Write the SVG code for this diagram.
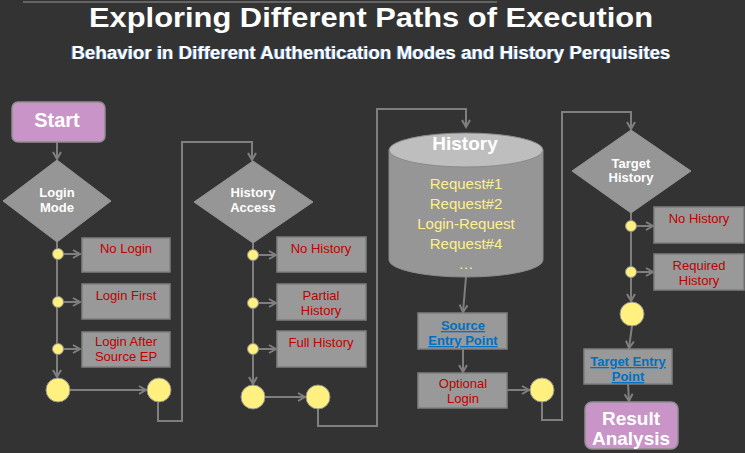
<svg xmlns="http://www.w3.org/2000/svg" width="745" height="453" viewBox="0 0 745 453">
<defs>
<marker id="arr" markerWidth="10" markerHeight="10" refX="8" refY="5" orient="auto" markerUnits="userSpaceOnUse">
<path d="M1,1 L8,5 L1,9" fill="none" stroke="#7f7f7f" stroke-width="2"/>
</marker>
<style>
.ln{fill:none;stroke:#7f7f7f;stroke-width:2}
.box{fill:#999999;stroke:#7f7f7f;stroke-width:1.5}
.dia{fill:#969696;stroke:#969696}
.pink{fill:#c994c7;stroke:#8f8f8f;stroke-width:1.5}
.dot{fill:#fff080;stroke:#8f8f8f;stroke-width:1}
.red{font-family:"Liberation Sans",Arial,sans-serif;font-size:13px;fill:#c00000;text-anchor:middle}
.wb{font-family:"Liberation Sans",Arial,sans-serif;font-weight:bold;fill:#ffffff;text-anchor:middle}
.blue{font-family:"Liberation Sans",Arial,sans-serif;font-weight:bold;font-size:13px;fill:#0070c0;text-anchor:middle;text-decoration:underline}
.yel{font-family:"Liberation Sans",Arial,sans-serif;font-size:15px;fill:#fff08c;text-anchor:middle}
</style>
</defs>
<rect width="745" height="453" fill="#333333"/>
<line x1="23" y1="2" x2="497" y2="2" stroke="#777777" stroke-width="1.5"/>
<text x="371" y="27" class="wb" font-size="28" textLength="564" lengthAdjust="spacingAndGlyphs">Exploring Different Paths of Execution</text>
<text x="370" y="59" font-family="'Liberation Sans',Arial,sans-serif" font-weight="bold" font-size="18" fill="#5b8fd0" text-anchor="middle" textLength="599" lengthAdjust="spacingAndGlyphs">Behavior in Different Authentication Modes and History Perquisites</text>
<text x="371" y="59" class="wb" font-size="18" textLength="599" lengthAdjust="spacingAndGlyphs">Behavior in Different Authentication Modes and History Perquisites</text>

<g id="connectors">
<line class="ln" x1="57" y1="142" x2="57" y2="159" marker-end="url(#arr)"/>
<line class="ln" x1="57" y1="242" x2="57" y2="377" marker-end="url(#arr)"/>
<line class="ln" x1="58" y1="254" x2="80" y2="254" marker-end="url(#arr)"/>
<line class="ln" x1="58" y1="302" x2="80" y2="302" marker-end="url(#arr)"/>
<line class="ln" x1="58" y1="349" x2="80" y2="349" marker-end="url(#arr)"/>
<line class="ln" x1="70" y1="390" x2="146" y2="390" marker-end="url(#arr)"/>
<polyline class="ln" points="158,402 158,421 182,421 182,142 252,142 252,160" marker-end="url(#arr)"/>
<line class="ln" x1="253" y1="243" x2="253" y2="384" marker-end="url(#arr)"/>
<line class="ln" x1="253" y1="255" x2="276" y2="255" marker-end="url(#arr)"/>
<line class="ln" x1="253" y1="303" x2="276" y2="303" marker-end="url(#arr)"/>
<line class="ln" x1="253" y1="349" x2="276" y2="349" marker-end="url(#arr)"/>
<line class="ln" x1="265" y1="397" x2="305" y2="397" marker-end="url(#arr)"/>
<polyline class="ln" points="318,409 318,426 377,426 377,109 466,109 466,127" marker-end="url(#arr)"/>
<line class="ln" x1="466" y1="277" x2="463" y2="312" marker-end="url(#arr)"/>
<line class="ln" x1="463" y1="349" x2="463" y2="372" marker-end="url(#arr)"/>
<line class="ln" x1="507" y1="390" x2="529" y2="390" marker-end="url(#arr)"/>
<polyline class="ln" points="542,402 542,420 562,420 562,112 631,112 631,129" marker-end="url(#arr)"/>
<line class="ln" x1="631" y1="213" x2="631" y2="301" marker-end="url(#arr)"/>
<line class="ln" x1="631" y1="226" x2="653" y2="226" marker-end="url(#arr)"/>
<line class="ln" x1="631" y1="272" x2="653" y2="272" marker-end="url(#arr)"/>
<line class="ln" x1="632" y1="326" x2="629" y2="348" marker-end="url(#arr)"/>
<line class="ln" x1="628" y1="384" x2="629" y2="401" marker-end="url(#arr)"/>
</g>

<g id="start">
<rect class="pink" x="12" y="102" width="93" height="40" rx="6"/>
<text x="57" y="127" class="wb" font-size="20">Start</text>
</g>
<g id="login-mode">
<polygon class="dia" points="57,160 111,201 57,242 3,201"/>
<text x="57" y="197" class="wb" font-size="13">Login</text>
<text x="57" y="212" class="wb" font-size="13">Mode</text>
</g>
<g id="no-login">
<rect class="box" x="82" y="238" width="88" height="34"/>
<text x="126" y="253" class="red">No Login</text>
</g>
<g id="login-first">
<rect class="box" x="82" y="284" width="88" height="35"/>
<text x="126" y="300" class="red">Login First</text>
</g>
<g id="login-after">
<rect class="box" x="82" y="332" width="88" height="35"/>
<text x="126" y="346" class="red">Login After</text>
<text x="126" y="361" class="red">Source EP</text>
</g>
<g id="dots-1">
<circle class="dot" cx="58" cy="254" r="5.5"/>
<circle class="dot" cx="58" cy="302" r="5.5"/>
<circle class="dot" cx="58" cy="349" r="5.5"/>
<circle class="dot" cx="58" cy="390" r="12"/>
<circle class="dot" cx="159" cy="390" r="12"/>
</g>

<g id="history-access">
<polygon class="dia" points="253,161 313,202 253,243 194,202"/>
<text x="253" y="197" class="wb" font-size="13">History</text>
<text x="253" y="212" class="wb" font-size="13">Access</text>
</g>
<g id="no-history-1">
<rect class="box" x="277" y="237" width="89" height="35"/>
<text x="321" y="253" class="red">No History</text>
</g>
<g id="partial-history">
<rect class="box" x="277" y="284" width="89" height="36"/>
<text x="321" y="300" class="red">Partial</text>
<text x="321" y="315" class="red">History</text>
</g>
<g id="full-history">
<rect class="box" x="277" y="331" width="89" height="36"/>
<text x="321" y="347" class="red">Full History</text>
</g>
<g id="dots-2">
<circle class="dot" cx="253" cy="255" r="5.5"/>
<circle class="dot" cx="253" cy="303" r="5.5"/>
<circle class="dot" cx="253" cy="349" r="5.5"/>
<circle class="dot" cx="253" cy="397" r="12"/>
<circle class="dot" cx="318" cy="397" r="12"/>
</g>

<g id="history-db">
<path d="M389,150 L389,260 A77,17 0 0 0 543,260 L543,150 Z" fill="#969696" stroke="#8a8a8a" stroke-width="1"/>
<ellipse cx="466" cy="150" rx="77" ry="17" fill="#bebebe" stroke="#8a8a8a" stroke-width="1"/>
<text x="465" y="150" class="wb" font-size="19">History</text>
<text x="466" y="189" class="yel">Request#1</text>
<text x="466" y="209" class="yel">Request#2</text>
<text x="466" y="229" class="yel">Login-Request</text>
<text x="466" y="249" class="yel">Request#4</text>
<text x="466" y="269" class="yel">…</text>
</g>
<g id="source-ep">
<rect class="box" x="418" y="313" width="89" height="36"/>
<text x="463" y="330" class="blue">Source</text>
<text x="463" y="345" class="blue">Entry Point</text>
</g>
<g id="optional-login">
<rect class="box" x="418" y="373" width="89" height="35"/>
<text x="463" y="388" class="red">Optional</text>
<text x="463" y="403" class="red">Login</text>
</g>
<g id="dots-3">
<circle class="dot" cx="542" cy="390" r="12"/>
</g>

<g id="target-history">
<polygon class="dia" points="631,130 691,171 631,213 572,171"/>
<text x="631" y="168" class="wb" font-size="13">Target</text>
<text x="631" y="182" class="wb" font-size="13">History</text>
</g>
<g id="no-history-2">
<rect class="box" x="654" y="207" width="90" height="36"/>
<text x="699" y="223" class="red">No History</text>
</g>
<g id="required-history">
<rect class="box" x="654" y="254" width="90" height="36"/>
<text x="699" y="270" class="red">Required</text>
<text x="699" y="285" class="red">History</text>
</g>
<g id="dots-4">
<circle class="dot" cx="631" cy="226" r="5.5"/>
<circle class="dot" cx="631" cy="272" r="5.5"/>
<circle class="dot" cx="632" cy="314" r="12"/>
</g>
<g id="target-ep">
<rect class="box" x="584" y="349" width="88" height="35"/>
<text x="628" y="366" class="blue">Target Entry</text>
<text x="628" y="381" class="blue">Point</text>
</g>
<g id="result">
<rect class="pink" x="585" y="402" width="93" height="47" rx="7"/>
<text x="631" y="425" class="wb" font-size="19">Result</text>
<text x="631" y="445" class="wb" font-size="19">Analysis</text>
</g>
</svg>
